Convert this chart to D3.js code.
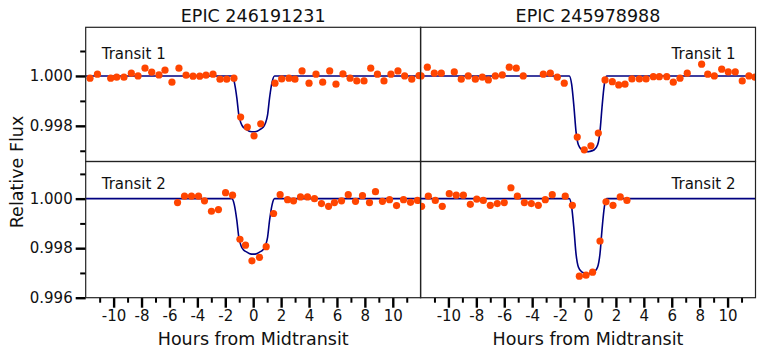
<!DOCTYPE html>
<html>
<head>
<meta charset="utf-8">
<script src="https://cdn.jsdelivr.net/npm/d3@7"></script>
<style>
  body { margin: 0; background: #fff; }
  svg { font-family: "DejaVu Sans", sans-serif; }
</style>
</head>
<body>
<svg id="chart" width="762" height="356"></svg>
<script>
// star names (column titles)
const starNames = ["EPIC 246191231", "EPIC 245978988"];
const transitNames = ["Transit 1", "Transit 2"];

// EPIC 246191231, transit 1
const s1t1Hours = [-11.69, -11.16, -10.21, -9.78, -9.26, -8.73, -8.25, -7.75, -7.27, -6.75, -6.32, -5.82, -5.32, -4.81, -4.31, -3.83, -3.38, -2.88, -2.38, -1.90, -1.38, -0.90, -0.42, 0.06, 0.54, 1.56, 2.04, 2.56, 2.99, 3.50, 4.00, 4.50, 4.98, 5.48, 5.93, 6.43, 6.94, 7.42, 7.94, 8.42, 8.90, 9.37, 9.87, 10.37, 10.85, 11.36, 11.88];
const s1t1Flux = [0.99991, 1.00007, 0.99991, 0.99995, 0.99995, 1.00011, 1.00000, 1.00031, 1.00015, 1.00004, 1.00023, 0.99975, 1.00031, 1.00003, 0.99999, 0.99999, 1.00003, 1.00007, 0.99987, 0.99987, 0.99991, 0.99835, 0.99795, 0.99760, 0.99808, 0.99971, 0.99988, 0.99991, 0.99987, 1.00020, 0.99971, 1.00007, 0.99975, 1.00020, 0.99967, 1.00008, 0.99991, 0.99980, 0.99980, 1.00031, 1.00007, 0.99980, 1.00007, 1.00020, 1.00000, 0.99987, 1.00001];

// EPIC 246191231, transit 2
const s1t2Hours = [-5.42, -4.92, -4.42, -3.92, -3.49, -2.99, -2.49, -1.98, -1.48, -0.95, -0.55, -0.09, 0.45, 0.93, 1.46, 1.93, 2.46, 2.89, 3.39, 3.89, 4.39, 4.89, 5.40, 5.82, 6.33, 6.81, 7.33, 7.83, 8.33, 8.76, 9.26, 9.77, 10.27, 10.77, 11.27, 11.77];
const s1t2Flux = [0.99984, 1.00010, 1.00010, 1.00010, 0.99991, 0.99949, 0.99956, 1.00024, 1.00014, 0.99836, 0.99812, 0.99749, 0.99763, 0.99806, 0.99940, 1.00016, 0.99996, 0.99991, 1.00007, 1.00007, 1.00000, 0.99980, 0.99969, 0.99984, 0.99991, 1.00016, 0.99989, 1.00012, 0.99984, 1.00028, 0.99989, 0.99996, 0.99972, 0.99996, 0.99985, 0.99993];

// EPIC 245978988, transit 1
const s2t1Hours = [-11.96, -11.51, -11.01, -10.51, -9.58, -9.08, -8.58, -8.07, -7.57, -7.14, -6.64, -6.14, -5.64, -5.14, -4.64, -3.20, -2.70, -2.20, -1.70, -0.77, -0.27, 0.21, 0.74, 1.22, 1.74, 2.20, 2.65, 3.15, 3.68, 4.16, 4.68, 5.11, 5.64, 6.11, 6.59, 7.11, 8.14, 8.58, 9.05, 9.58, 10.05, 10.55, 11.05, 11.53, 11.96];
const s2t1Flux = [1.00000, 1.00035, 1.00011, 1.00011, 1.00016, 0.99987, 1.00000, 0.99987, 0.99995, 0.99984, 1.00000, 1.00004, 1.00035, 1.00031, 1.00000, 1.00007, 1.00011, 0.99995, 0.99971, 0.99755, 0.99704, 0.99720, 0.99771, 0.99984, 0.99977, 0.99964, 0.99967, 0.99988, 0.99988, 0.99988, 0.99997, 0.99997, 0.99997, 0.99975, 0.99991, 1.00011, 1.00047, 1.00007, 1.00000, 1.00027, 1.00016, 1.00016, 0.99980, 1.00000, 0.99995];

// EPIC 245978988, transit 2
const s2t2Hours = [-11.92, -11.44, -10.94, -10.44, -9.94, -9.44, -8.93, -8.43, -7.97, -7.50, -7.00, -6.50, -6.00, -5.52, -5.06, -4.56, -4.06, -3.56, -3.06, -2.56, -1.63, -1.12, -0.62, -0.14, 0.33, 0.86, 1.29, 1.79, 2.31, 2.79];
const s2t2Flux = [0.99969, 1.00010, 0.99993, 0.99969, 1.00020, 1.00014, 1.00014, 0.99977, 0.99998, 0.99993, 0.99973, 0.99980, 0.99984, 1.00044, 1.00010, 0.99984, 0.99980, 0.99973, 0.99996, 1.00016, 1.00010, 0.99973, 0.99687, 0.99691, 0.99703, 0.99829, 0.99987, 0.99973, 1.00007, 0.99993];

// transit model curves
const s1ModelHours = [-12, -1.53, -1.36, -1.17, -1.03, -0.88, -0.69, -0.45, -0.21, 0, 0.21, 0.45, 0.69, 0.88, 1.03, 1.17, 1.36, 1.53, 12];
const s1ModelFlux = [1.0, 1.0, 0.99977, 0.99911, 0.99844, 0.99811, 0.99793, 0.99784, 0.99777, 0.99776, 0.99777, 0.99784, 0.99793, 0.99811, 0.99844, 0.99911, 0.99977, 1.0, 1.0];
const s2ModelHours = [-12, -1.34, -1.17, -1.0, -0.86, -0.69, -0.45, -0.09, 0, 0.09, 0.45, 0.69, 0.86, 1.0, 1.17, 1.34, 12];
const s2ModelFlux = [1.0, 1.0, 0.99966, 0.99872, 0.99778, 0.99724, 0.99704, 0.99697, 0.99696, 0.99697, 0.99704, 0.99724, 0.99778, 0.99872, 0.99966, 1.0, 1.0];

// ticks
const xMajorTicks = [-10, -8, -6, -4, -2, 0, 2, 4, 6, 8, 10];
const xMinorTicks = [-11, -9, -7, -5, -3, -1, 1, 3, 5, 7, 9, 11];
const yMajorTop = [1.000, 0.998];
const yMinorTop = [1.001, 0.999, 0.997];
const yMajorBottom = [1.000, 0.998, 0.996];
const yMinorBottom = [1.001, 0.999, 0.997];
const yDomainTop = [0.99657, 1.00195];
const yDomainBottom = [0.996, 1.0015];

//-----------------------------------------------------------------------------

const svg = d3.select("#chart");
const colLeft = [85.7, 420.5];
const colWidth = 335;
const rowTop = [27.3, 161.5];
const rowBottom = [161.5, 297.7];

const pointColor = "#ff4500";
const lineColor = "#000080";

const panels = [
  { col: 0, row: 0, hours: s1t1Hours, flux: s1t1Flux, mh: s1ModelHours, mf: s1ModelFlux },
  { col: 0, row: 1, hours: s1t2Hours, flux: s1t2Flux, mh: s1ModelHours, mf: s1ModelFlux },
  { col: 1, row: 0, hours: s2t1Hours, flux: s2t1Flux, mh: s2ModelHours, mf: s2ModelFlux },
  { col: 1, row: 1, hours: s2t2Hours, flux: s2t2Flux, mh: s2ModelHours, mf: s2ModelFlux }
];

panels.forEach((p, i) => {
  const x0 = colLeft[p.col], x1 = x0 + colWidth;
  const y0 = rowTop[p.row], y1 = rowBottom[p.row];

  const x = d3.scaleLinear().domain([-12, 12]).range([x0, x1]);
  const y = d3.scaleLinear()
      .domain(p.row === 0 ? yDomainTop : yDomainBottom)
      .range([y1, y0]);

  const clipId = "clip" + i;
  svg.append("clipPath").attr("id", clipId)
    .append("rect")
      .attr("x", x0).attr("y", y0)
      .attr("width", x1 - x0).attr("height", y1 - y0);

  const g = svg.append("g").attr("clip-path", `url(#${clipId})`);

  // model line
  const model = p.mh.map((h, k) => [h, p.mf[k]]);
  g.append("path")
    .datum(model)
    .attr("fill", "none")
    .attr("stroke", lineColor)
    .attr("stroke-width", 1.6)
    .attr("d", d3.line()
      .x(d => x(d[0]))
      .y(d => y(d[1]))
      .curve(d3.curveMonotoneX));

  // data points
  g.selectAll("circle")
    .data(p.hours.map((h, k) => [h, p.flux[k]]))
    .enter().append("circle")
      .attr("cx", d => x(d[0]))
      .attr("cy", d => y(d[1]))
      .attr("r", 3.6)
      .attr("fill", pointColor);

  // transit label
  svg.append("text")
    .attr("x", p.col === 0 ? x0 + 16 : x1 - 20)
    .attr("y", p.row === 0 ? y0 + 31.5 : y0 + 27)
    .attr("text-anchor", p.col === 0 ? "start" : "end")
    .attr("font-size", "15px")
    .attr("fill", "#111")
    .text(transitNames[p.row]);

  // y axis only on the left column
  if (p.col === 0) {
    const majors = p.row === 0 ? yMajorTop : yMajorBottom;
    const minors = p.row === 0 ? yMinorTop : yMinorBottom;
    const yAx = svg.append("g")
      .attr("transform", `translate(${x0},0)`)
      .call(d3.axisLeft(y).tickValues(majors).tickSize(10).tickFormat(d3.format(".3f")));
    yAx.select(".domain").remove();
    yAx.selectAll("line").attr("stroke-width", 2.4).attr("stroke", "#000");
    yAx.selectAll("text").attr("font-size", "15px").attr("font-family", "DejaVu Sans").attr("fill", "#111");

    const yMin = svg.append("g")
      .attr("transform", `translate(${x0},0)`)
      .call(d3.axisLeft(y).tickValues(minors).tickSize(5.5).tickFormat(""));
    yMin.select(".domain").remove();
    yMin.selectAll("line").attr("stroke-width", 2).attr("stroke", "#000");
  }

  // x axis only on the bottom row
  if (p.row === 1) {
    const xAx = svg.append("g")
      .attr("transform", `translate(0,${y1})`)
      .call(d3.axisBottom(x).tickValues(xMajorTicks).tickSize(10).tickFormat(d => String(d)));
    xAx.select(".domain").remove();
    xAx.selectAll("line").attr("stroke-width", 2.4).attr("stroke", "#000");
    xAx.selectAll("text").attr("font-size", "15px").attr("font-family", "DejaVu Sans").attr("fill", "#111");

    const xMin = svg.append("g")
      .attr("transform", `translate(0,${y1})`)
      .call(d3.axisBottom(x).tickValues(xMinorTicks).tickSize(5).tickFormat(""));
    xMin.select(".domain").remove();
    xMin.selectAll("line").attr("stroke-width", 2).attr("stroke", "#000");

    svg.append("text")
      .attr("x", (x0 + x1) / 2)
      .attr("y", 345)
      .attr("text-anchor", "middle")
      .attr("font-size", "17.5px")
      .attr("fill", "#111")
      .text("Hours from Midtransit");
  }

  // title above the top row
  if (p.row === 0) {
    svg.append("text")
      .attr("x", (x0 + x1) / 2)
      .attr("y", 21.5)
      .attr("text-anchor", "middle")
      .attr("font-size", "17.5px")
      .attr("fill", "#111")
      .text(starNames[p.col]);
  }

  // frame
  svg.append("rect")
    .attr("x", x0).attr("y", y0)
    .attr("width", x1 - x0).attr("height", y1 - y0)
    .attr("fill", "none")
    .attr("stroke", "#222")
    .attr("stroke-width", 1.2);
});

// shared y label
svg.append("text")
  .attr("transform", "translate(23,172) rotate(-90)")
  .attr("text-anchor", "middle")
  .attr("font-size", "17.5px")
  .attr("fill", "#111")
  .text("Relative Flux");
</script>
</body>
</html>
